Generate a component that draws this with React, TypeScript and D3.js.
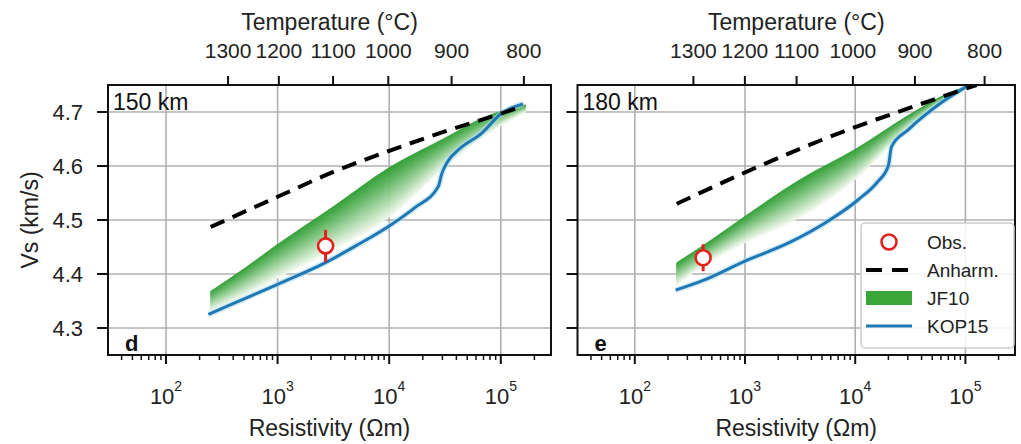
import React from "react";
import * as d3 from "d3";

// ---- data (resistivity given as log10 of Ωm) ----
const yTicks = [4.3, 4.4, 4.5, 4.6, 4.7];
const xMajorExps = [2, 3, 4, 5];
const tempTicks = [1300, 1200, 1100, 1000, 900, 800];
const tempTickExpD = [2.556, 3.011, 3.497, 3.992, 4.559, 5.207];
const tempTickExpE = [2.532, 2.999, 3.468, 3.979, 4.542, 5.174];

// 150 km
const anharmExpD = [2.4, 3.0, 3.5, 4.0, 4.5, 5.0, 5.2];
const anharmVsD = [4.487, 4.543, 4.589, 4.628, 4.664, 4.697, 4.711];
const kopExpD = [2.38, 2.6, 3.0, 3.42, 3.7, 4.0, 4.23, 4.44, 4.47, 4.52, 4.62, 4.83, 5.01, 5.2];
const kopVsD = [4.325, 4.345, 4.381, 4.42, 4.452, 4.489, 4.523, 4.562, 4.585, 4.607, 4.63, 4.661, 4.698, 4.715];
const jfExpD = [2.4, 2.7, 3.0, 3.5, 4.0, 4.5, 4.85, 5.22];
const jfTopD = [4.368, 4.41, 4.455, 4.525, 4.597, 4.652, 4.69, 4.713];
const jfBotD = [4.332, 4.36, 4.392, 4.445, 4.505, 4.598, 4.655, 4.7];
const obsD = { exp: 3.43, vs: 4.452, err: 0.03 };

// 180 km
const anharmExpE = [2.38, 3.0, 3.5, 4.0, 4.5, 5.1];
const anharmVsE = [4.53, 4.588, 4.632, 4.672, 4.708, 4.75];
const kopExpE = [2.37, 2.62, 3.0, 3.4, 3.73, 4.03, 4.2, 4.3, 4.33, 4.48, 4.78, 5.05];
const kopVsE = [4.37, 4.388, 4.424, 4.458, 4.495, 4.538, 4.57, 4.6, 4.636, 4.667, 4.717, 4.752];
const jfExpE = [2.38, 2.7, 3.0, 3.5, 4.0, 4.5, 4.85, 5.2];
const jfTopE = [4.421, 4.464, 4.507, 4.575, 4.631, 4.696, 4.735, 4.758];
const jfBotE = [4.38, 4.425, 4.458, 4.505, 4.575, 4.672, 4.725, 4.752];
const obsE = { exp: 2.62, vs: 4.43, err: 0.025 };

const legendLabels = ["Obs.", "Anharm.", "JF10", "KOP15"];

const FONT = "'Liberation Sans', Arial, Helvetica, sans-serif";
const TOP = 85;
const BOTTOM = 355;
const X_EXP_DOMAIN = [1.48, 5.45];
const GREEN_DARK = "#2f9e33";
const GREEN_LIGHT = "#f0f9ec";
const BLUE = "#1f77b4";
const RED = "#e3211c";

type PanelProps = {
  id: string;
  left: number;
  right: number;
  depth: string;
  letter: string;
  showYLabels: boolean;
  tempExp: number[];
  anharmExp: number[];
  anharmVs: number[];
  kopExp: number[];
  kopVs: number[];
  jfExp: number[];
  jfTop: number[];
  jfBot: number[];
  obs: { exp: number; vs: number; err: number };
  legend?: boolean;
};

function Panel(p: PanelProps) {
  const x = d3
    .scaleLog()
    .domain([10 ** X_EXP_DOMAIN[0], 10 ** X_EXP_DOMAIN[1]])
    .range([p.left, p.right]);
  const y = d3.scaleLinear().domain([4.25, 4.75]).range([BOTTOM, TOP]);
  const cx = (p.left + p.right) / 2;

  const line = d3
    .line<[number, number]>()
    .x((d) => x(10 ** d[0]))
    .y((d) => y(d[1]))
    .curve(d3.curveMonotoneX);

  const anharm = line(p.anharmExp.map((e, i) => [e, p.anharmVs[i]]))!;
  const kop = line(p.kopExp.map((e, i) => [e, p.kopVs[i]]))!;

  // JF10 band drawn as stacked strips fading from top edge to bottom edge
  const nStrips = 26;
  const strips: { d: string; color: string }[] = [];
  const colorAt = d3.interpolateRgb(GREEN_DARK, GREEN_LIGHT);
  for (let s = 0; s < nStrips; s++) {
    const t0 = s / nStrips;
    const t1 = (s + 1) / nStrips;
    const area = d3
      .area<number>()
      .x((_, i) => x(10 ** p.jfExp[i]))
      .y0((_, i) => y(p.jfTop[i] + (p.jfBot[i] - p.jfTop[i]) * t1))
      .y1((_, i) => y(p.jfTop[i] + (p.jfBot[i] - p.jfTop[i]) * t0))
      .curve(d3.curveMonotoneX);
    strips.push({
      d: area(p.jfExp)!,
      color: colorAt(Math.pow((t0 + t1) / 2, 1.1)),
    });
  }

  const minorTicks: number[] = [];
  for (let k = 1; k <= 5; k++) {
    for (let m = 2; m <= 9; m++) {
      const v = m * 10 ** k;
      const lv = Math.log10(v);
      if (lv > X_EXP_DOMAIN[0] + 0.01 && lv < X_EXP_DOMAIN[1]) minorTicks.push(v);
    }
  }

  const clipId = `clip-${p.id}`;

  return (
    <g>
      <defs>
        <clipPath id={clipId}>
          <rect x={p.left} y={TOP} width={p.right - p.left} height={BOTTOM - TOP} />
        </clipPath>
      </defs>
      <rect x={p.left} y={TOP} width={p.right - p.left} height={BOTTOM - TOP} fill="#fff" />
      {/* grid */}
      <g stroke="#b0b0b0" strokeWidth={1.6}>
        {xMajorExps.map((e) => (
          <line key={`gx${e}`} x1={x(10 ** e)} x2={x(10 ** e)} y1={TOP} y2={BOTTOM} />
        ))}
        {yTicks.map((v) => (
          <line key={`gy${v}`} x1={p.left} x2={p.right} y1={y(v)} y2={y(v)} />
        ))}
      </g>
      <g clipPath={`url(#${clipId})`}>
        {strips.map((s, i) => (
          <path key={i} d={s.d} fill={s.color} stroke={s.color} strokeWidth={0.6} />
        ))}
        <path d={kop} fill="none" stroke="#a9dcf0" strokeWidth={6} strokeLinejoin="round" opacity={0.55} />
        <path d={kop} fill="none" stroke={BLUE} strokeWidth={3} strokeLinejoin="round" />
        <path d={anharm} fill="none" stroke="#000" strokeWidth={4} strokeDasharray="15 9" />
        <line
          x1={x(10 ** p.obs.exp)}
          x2={x(10 ** p.obs.exp)}
          y1={y(p.obs.vs - p.obs.err)}
          y2={y(p.obs.vs + p.obs.err)}
          stroke={RED}
          strokeWidth={3}
        />
        <circle cx={x(10 ** p.obs.exp)} cy={y(p.obs.vs)} r={7.5} fill="#fff" stroke={RED} strokeWidth={2.6} />
      </g>

      {/* frame */}
      <rect x={p.left} y={TOP} width={p.right - p.left} height={BOTTOM - TOP} fill="none" stroke="#111" strokeWidth={2} />

      {/* left ticks */}
      <g stroke="#111" strokeWidth={2}>
        {yTicks.map((v) => (
          <line key={`yt${v}`} x1={p.left - 11} x2={p.left} y1={y(v)} y2={y(v)} />
        ))}
      </g>
      {p.showYLabels &&
        yTicks.map((v) => (
          <text key={`yl${v}`} x={p.left - 25} y={y(v)} dy="0.36em" textAnchor="end" fontSize={22} fill="#222" fontFamily={FONT}>
            {v.toFixed(1)}
          </text>
        ))}

      {/* bottom ticks */}
      <g stroke="#111">
        {xMajorExps.map((e) => (
          <line key={`bt${e}`} x1={x(10 ** e)} x2={x(10 ** e)} y1={BOTTOM} y2={BOTTOM + 9} strokeWidth={2} />
        ))}
        {minorTicks.map((v) => (
          <line key={`bm${v}`} x1={x(v)} x2={x(v)} y1={BOTTOM} y2={BOTTOM + 5} strokeWidth={1.5} />
        ))}
      </g>
      {xMajorExps.map((e) => (
        <text key={`bl${e}`} x={x(10 ** e)} y={404} textAnchor="middle" fontSize={22} fill="#222" fontFamily={FONT}>
          <tspan>10</tspan>
          <tspan dy={-13} fontSize={14}>{e}</tspan>
        </text>
      ))}
      <text x={cx} y={436} textAnchor="middle" fontSize={23} fill="#222" fontFamily={FONT}>
        Resistivity (Ωm)
      </text>

      {/* top temperature axis */}
      <g stroke="#111" strokeWidth={2}>
        {p.tempExp.map((e, i) => (
          <line key={`tt${i}`} x1={x(10 ** e)} x2={x(10 ** e)} y1={TOP - 9} y2={TOP} />
        ))}
      </g>
      {p.tempExp.map((e, i) => (
        <text key={`tl${i}`} x={x(10 ** e)} y={58} textAnchor="middle" fontSize={21} fill="#222" fontFamily={FONT}>
          {tempTicks[i]}
        </text>
      ))}
      <text x={cx} y={30} textAnchor="middle" fontSize={23} fill="#222" fontFamily={FONT}>
        Temperature (°C)
      </text>

      {/* panel annotations */}
      <text x={p.left + 5} y={110} fontSize={23} fill="#111" fontFamily={FONT}>
        {p.depth}
      </text>
      <text x={p.left + 17} y={351} fontSize={22} fontWeight="bold" fill="#111" fontFamily={FONT}>
        {p.letter}
      </text>

      {p.legend && <Legend />}
    </g>
  );
}

function Legend() {
  const bx = 861;
  const by = 223;
  const rowY = [242, 270, 298, 326];
  const mx0 = 866;
  const mx1 = 912;
  return (
    <g fontFamily={FONT}>
      <rect x={bx} y={by} width={153} height={125} rx={4} fill="#fff" fillOpacity={0.85} stroke="#cccccc" strokeWidth={1.5} />
      <circle cx={(mx0 + mx1) / 2} cy={rowY[0]} r={7.5} fill="#fff" stroke={RED} strokeWidth={2.6} />
      <line x1={mx0} x2={mx1} y1={rowY[1]} y2={rowY[1]} stroke="#000" strokeWidth={4} strokeDasharray="16 10" />
      <rect x={mx0} y={rowY[2] - 7} width={mx1 - mx0} height={14} fill="#3aa63a" />
      <line x1={mx0} x2={mx1} y1={rowY[3]} y2={rowY[3]} stroke={BLUE} strokeWidth={3} />
      {legendLabels.map((l, i) => (
        <text key={l} x={927} y={rowY[i]} dy="0.36em" fontSize={19} fill="#222">
          {l}
        </text>
      ))}
    </g>
  );
}

export default function App() {
  return (
    <svg
      width={1021}
      height={444}
      viewBox="0 0 1021 444"
      style={{ position: "absolute", left: 0, top: 0, background: "#fff" }}
    >
      <rect width={1021} height={444} fill="#fff" />
      <text
        transform="translate(30,220) rotate(-90)"
        textAnchor="middle"
        dy="0.36em"
        fontSize={23}
        fill="#222"
        fontFamily={FONT}
      >
        Vs (km/s)
      </text>
      <Panel
        id="d"
        left={108}
        right={551}
        depth="150 km"
        letter="d"
        showYLabels
        tempExp={tempTickExpD}
        anharmExp={anharmExpD}
        anharmVs={anharmVsD}
        kopExp={kopExpD}
        kopVs={kopVsD}
        jfExp={jfExpD}
        jfTop={jfTopD}
        jfBot={jfBotD}
        obs={obsD}
      />
      <Panel
        id="e"
        left={577.5}
        right={1015}
        depth="180 km"
        letter="e"
        showYLabels={false}
        tempExp={tempTickExpE}
        anharmExp={anharmExpE}
        anharmVs={anharmVsE}
        kopExp={kopExpE}
        kopVs={kopVsE}
        jfExp={jfExpE}
        jfTop={jfTopE}
        jfBot={jfBotE}
        obs={obsE}
        legend
      />
    </svg>
  );
}
